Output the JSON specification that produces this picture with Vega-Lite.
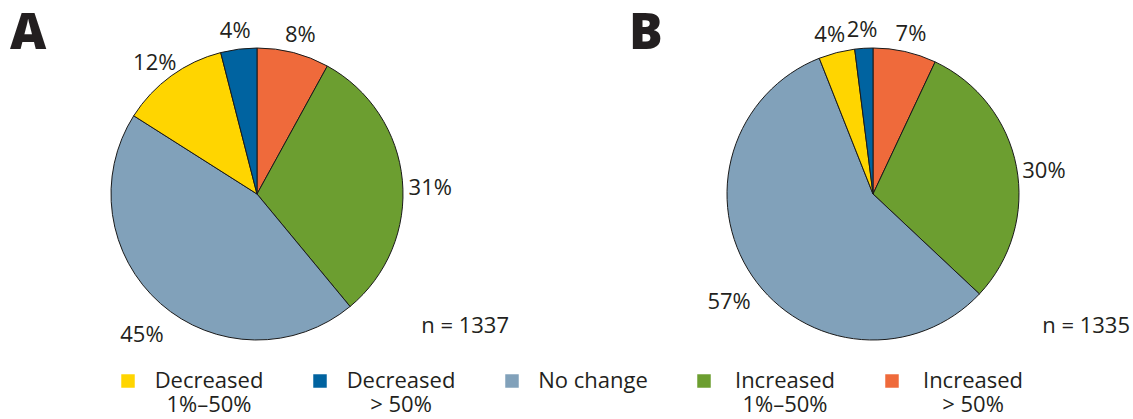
{
  "$schema": "https://vega.github.io/schema/vega-lite/v6.json",
  "padding": 0,
  "background": "white",
  "config": {"view": {"stroke": null}, "font": "Open Sans"},
  "data": {"values": [
    {"panel": "A", "category": "Increased > 50%", "value": 0.08, "k": 1},
    {"panel": "A", "category": "Increased 1%–50%", "value": 0.31, "k": 2},
    {"panel": "A", "category": "No change", "value": 0.45, "k": 3},
    {"panel": "A", "category": "Decreased 1%–50%", "value": 0.12, "k": 4},
    {"panel": "A", "category": "Decreased > 50%", "value": 0.04, "k": 5},
    {"panel": "B", "category": "Increased > 50%", "value": 0.07, "k": 1},
    {"panel": "B", "category": "Increased 1%–50%", "value": 0.30, "k": 2},
    {"panel": "B", "category": "No change", "value": 0.57, "k": 3},
    {"panel": "B", "category": "Decreased 1%–50%", "value": 0.04, "k": 4},
    {"panel": "B", "category": "Decreased > 50%", "value": 0.02, "k": 5}
  ]},
  "spacing": 102,
  "hconcat": [
    {
      "title": {"text": "n = 1337", "orient": "bottom", "anchor": "end", "frame": "bounds", "offset": 0, "baseline": "alphabetic", "dy": -55, "dx": -5, "fontSize": 22, "fontWeight": "normal", "font": "Open Sans", "color": "#231f20"},
      "vconcat": [{
        "title": {"text": "A", "orient": "top", "anchor": "start", "frame": "group", "offset": -51, "baseline": "alphabetic", "dy": 48, "dx": 10, "fontSize": 50, "fontWeight": 800, "font": "Open Sans", "color": "#231f20"},
        "width": 514, "height": 388,
        "transform": [{"filter": {"field": "panel", "equal": "A"}}],
        "layer": [
          {"mark": {"type": "arc", "radius": 146, "stroke": "#1a1a1a", "strokeWidth": 1},
           "encoding": {
             "theta": {"field": "value", "type": "quantitative", "stack": true, "scale": {"domain": [0, 1]}},
             "order": {"field": "k", "type": "quantitative"},
             "color": {"field": "category", "type": "nominal",
               "scale": {"domain": ["Decreased 1%–50%", "Decreased > 50%", "No change", "Increased 1%–50%", "Increased > 50%"],
                         "range": ["#FFD500", "#0063A0", "#81A1BA", "#6C9E30", "#EF6A3B"]},
               "legend": {"orient": "none", "legendX": 117, "legendY": 370, "direction": "horizontal", "columns": 5, "title": null,
                 "symbolType": "square", "symbolSize": 182, "symbolStrokeWidth": 0, "symbolOpacity": 1,
                 "labelFontSize": 22, "labelFont": "Open Sans", "labelColor": "#231f20", "labelAlign": "center", "labelBaseline": "middle",
                 "labelOffset": 70, "columnPadding": 45, "labelLimit": 400, "padding": 0,
                 "labelExpr": "datum.label == 'No change' ? ['No change', ''] : [slice(datum.label, 0, 9), slice(datum.label, 10)]",
                 "encode": {"labels": {"update": {"dy": {"value": 12.5}, "lineHeight": {"value": 25}}}}}
             }
           }},
          {"mark": {"type": "text", "radius": 174, "fontSize": 22, "font": "Open Sans", "color": "#231f20", "baseline": "top"},
           "encoding": {
             "theta": {"field": "value", "type": "quantitative", "stack": true, "scale": {"domain": [0, 1]}},
             "order": {"field": "k", "type": "quantitative"},
             "detail": {"field": "category"},
             "text": {"field": "value", "type": "quantitative", "format": ".0%"}
           }}
        ]
      }]
    },
    {
      "title": {"text": "n = 1335", "orient": "bottom", "anchor": "end", "frame": "bounds", "offset": 0, "baseline": "alphabetic", "dy": -55, "dx": 0, "fontSize": 22, "fontWeight": "normal", "font": "Open Sans", "color": "#231f20"},
      "vconcat": [{
        "title": {"text": "B", "orient": "top", "anchor": "start", "frame": "group", "offset": -51, "baseline": "alphabetic", "dy": 48, "dx": 13, "fontSize": 50, "fontWeight": 800, "font": "Open Sans", "color": "#231f20"},
        "width": 514, "height": 388,
        "transform": [{"filter": {"field": "panel", "equal": "B"}}],
        "layer": [
          {"mark": {"type": "arc", "radius": 146, "stroke": "#1a1a1a", "strokeWidth": 1},
           "encoding": {
             "theta": {"field": "value", "type": "quantitative", "stack": true, "scale": {"domain": [0, 1]}},
             "order": {"field": "k", "type": "quantitative"},
             "color": {"field": "category", "type": "nominal"}
           }},
          {"mark": {"type": "text", "radius": 174, "fontSize": 22, "font": "Open Sans", "color": "#231f20", "baseline": "top"},
           "encoding": {
             "theta": {"field": "value", "type": "quantitative", "stack": true, "scale": {"domain": [0, 1]}},
             "order": {"field": "k", "type": "quantitative"},
             "detail": {"field": "category"},
             "text": {"field": "value", "type": "quantitative", "format": ".0%"}
           }}
        ]
      }]
    }
  ]
}
